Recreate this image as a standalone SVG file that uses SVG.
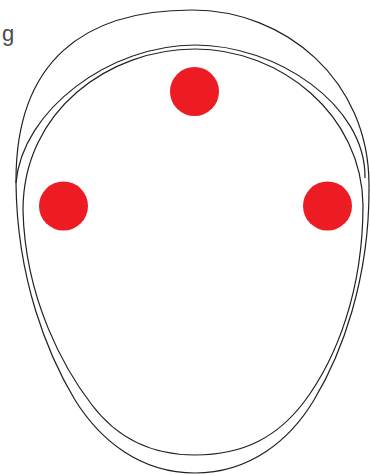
<svg xmlns="http://www.w3.org/2000/svg" width="370" height="475" viewBox="0 0 370 475">
  <style>
    .line { fill: none; stroke: #231F20; stroke-width: 1.2; }
    .dot { fill: #ED1C24; }
    .lbl { font-family: "Liberation Sans", Arial, sans-serif; font-size: 22px; fill: #4a4a4a; }
  </style>
  <rect width="370" height="475" fill="#ffffff"/>
  <g id="outlines">
    <path id="outer" class="line" d="M16,183 C15,60 85,10 192,10 C285,10 369,80 369,185 C370,280 341,355 314,400 C290,440 250,473 195,473 C140,473 100,440 75,400 C48,355 17,280 16,183 Z"/>
    <path id="middle" class="line" d="M16,183 C22,110 110,45 195,45 C277,45 366,105 365,178"/>
    <path id="inner" class="line" d="M195,49 C110,49 23,110 23,210 C25,300 65,370 92,405 C117,438 152,455 195,455 C245,455 278,436 304,402 C337,358 363,290 363,205 C362,115 281,49 195,49 Z"/>
  </g>
  <g id="node-top"><circle class="dot" cx="194.5" cy="91.5" r="24.5"/></g>
  <g id="node-left"><circle class="dot" cx="63.5" cy="206" r="24.5"/></g>
  <g id="node-right"><circle class="dot" cx="327.5" cy="206" r="24.5"/></g>
  <g id="label"><text class="lbl" x="2" y="41">g</text></g>
</svg>
